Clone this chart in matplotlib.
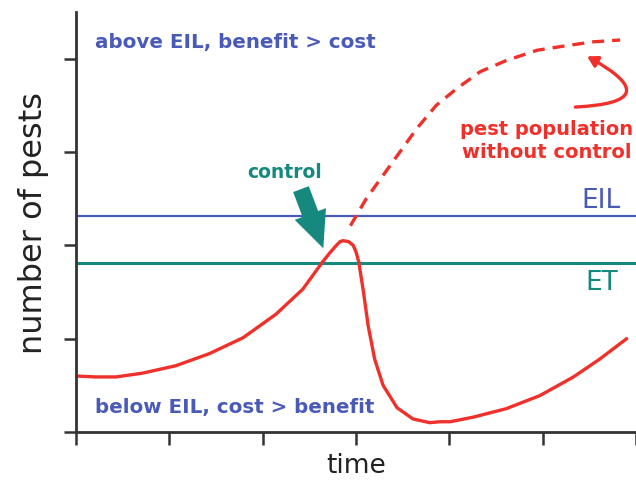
import numpy as np
import matplotlib
matplotlib.use('Agg')
import matplotlib.pyplot as plt

#*-*-*-*-*-*-*-*-*-*-*-*- DATA *-*-*-*-*-*-*-*-*-*-*-*-
# pest population with control (solid red)
t_ctrl = [0.00, 0.21, 0.43, 0.71, 1.07, 1.43, 1.79, 2.14, 2.43, 2.64, 2.72, 2.79, 2.83, 2.86, 2.92, 2.97, 3.00, 3.03,
          3.08, 3.13, 3.20, 3.29, 3.44, 3.61, 3.79, 3.90, 4.01, 4.26, 4.61, 4.97, 5.33, 5.61, 5.90]
n_ctrl = [0.60, 0.59, 0.59, 0.63, 0.71, 0.84, 1.01, 1.26, 1.53, 1.82, 1.92, 2.00, 2.04, 2.05, 2.04, 2.00, 1.93, 1.82,
          1.50, 1.14, 0.78, 0.50, 0.26, 0.14, 0.10, 0.11, 0.11, 0.16, 0.25, 0.39, 0.59, 0.78, 1.00]

# pest population without control (dashed red)
t_free = [2.94, 3.11, 3.29, 3.47, 3.65, 3.86, 4.08, 4.33, 4.61, 4.94, 5.26, 5.54, 5.83]
n_free = [2.21, 2.50, 2.75, 3.00, 3.25, 3.50, 3.68, 3.86, 3.98, 4.09, 4.14, 4.18, 4.20]

EIL = 2.31
ET = 1.81

x_ticks = [0, 1, 2, 3, 4, 5, 6]
y_ticks = [0, 1, 2, 3, 4]

red = '#f0302a'
blue = '#4a5ab8'
teal = '#15897d'

#*-*-*-*-*-*-*-*-*-*-*-*- PLOT *-*-*-*-*-*-*-*-*-*-*-*-
fig = plt.figure(figsize=(6.36, 4.81), dpi=100)
ax = fig.add_axes([76/636, 48/481, 560/636, 420/481])

ax.axhline(EIL, color=blue, lw=1.6)
ax.axhline(ET, color=teal, lw=2.2)
ax.plot(t_ctrl, n_ctrl, color=red, lw=2.4, solid_capstyle='round', solid_joinstyle='round')
ax.plot(t_free, n_free, color=red, lw=2.4, ls=(0, (3.6, 2.4)))

ax.set_xlim(0, 6.0)
ax.set_ylim(0, 4.5)
ax.set_xticks(x_ticks)
ax.set_yticks(y_ticks)
ax.set_xticklabels([])
ax.set_yticklabels([])
ax.tick_params(length=9, width=1.8, color='#333333', direction='out')
for s in ['top', 'right']:
    ax.spines[s].set_visible(False)
for s in ['left', 'bottom']:
    ax.spines[s].set_linewidth(2)
    ax.spines[s].set_color('#333333')

ax.set_xlabel('time', fontsize=19, color='#222222', labelpad=2)
ax.set_ylabel('number of pests', fontsize=23, color='#222222', labelpad=7)

ax.text(0.2, 4.18, 'above EIL, benefit > cost', color=blue, fontsize=14.3, va='center', fontweight='semibold')
ax.text(0.2, 0.27, 'below EIL, cost > benefit', color=blue, fontsize=14.3, va='center', fontweight='semibold')
ax.text(2.24, 2.79, 'control', color=teal, fontsize=13.5, va='center', ha='center', fontweight='semibold')
ax.text(5.83, 2.49, 'EIL', color=blue, fontsize=19, va='center', ha='right')
ax.text(5.81, 1.61, 'ET', color=teal, fontsize=19, va='center', ha='right')
ax.text(5.04, 3.13, 'pest population\nwithout control', color=red, fontsize=14, va='center', ha='center',
        fontweight='semibold', linespacing=1.3)

# control arrow
ax.annotate('', xy=(2.66, 1.94), xytext=(2.40, 2.63),
            arrowprops=dict(arrowstyle='simple,head_length=2.2,head_width=2.0,tail_width=1.0',
                            color=teal, lw=0, mutation_scale=12))
# curved pointer to dashed curve
ax.annotate('', xy=(5.45, 4.04), xytext=(5.32, 3.48),
            arrowprops=dict(arrowstyle='-|>,head_length=0.6,head_width=0.35', color=red, lw=2.4,
                            connectionstyle='arc3,rad=1.8'))

plt.savefig('out.png', dpi=100)
